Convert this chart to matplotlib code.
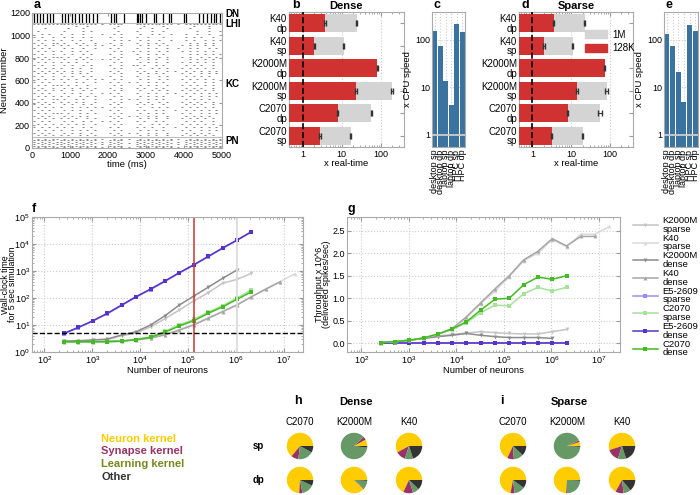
import numpy as np
import matplotlib
matplotlib.use('Agg')
import matplotlib.pyplot as plt
from matplotlib.patches import Patch
from matplotlib.ticker import FormatStrFormatter

plt.rcParams['font.family'] = ['Liberation Sans', 'DejaVu Sans']
plt.rcParams['mathtext.fontset'] = 'custom'
plt.rcParams['mathtext.rm'] = 'Liberation Sans'
plt.rcParams['font.size'] = 7
plt.rcParams['axes.edgecolor'] = '#aaaaaa'
plt.rcParams['axes.linewidth'] = 0.8
plt.rcParams['xtick.color'] = '#999999'
plt.rcParams['ytick.color'] = '#999999'
plt.rcParams['xtick.labelcolor'] = 'black'
plt.rcParams['ytick.labelcolor'] = 'black'
plt.rcParams['xtick.labelsize'] = 6.5
plt.rcParams['ytick.labelsize'] = 6.5
plt.rcParams['xtick.major.pad'] = 2
plt.rcParams['ytick.major.pad'] = 1.5
plt.rcParams['axes.labelsize'] = 6.8

# ---------------- data ----------------
# raster (a): each '-' is a short burst in a 100 ms bin, '|' only separates stimulus windows
kc_rows = [
    "      | |    -  -  |   |  - |   |  -    -  |   |  -   -   ",
    "   -  | |  -   -   |   | -  |   | -  -   - |   | -    -   ",
    " -    | | -    - - |   |  - |   |-   -  -  |   |   -  -  -",
    "  - - | |-  -  -   | - | - -|   | -  - -  -|   |-  -  -   ",
    "- -  -| | - -  - - |   |-  -|   |-  -   - |   | - - -  - ",
    " - - -| |-  - -  - |   | - -| - | - -  -  -|   |- -  - - -",
    "- -  -|-| -  - -  -|   |-  -|   |-  - - -  |   | - - - -  ",
    " - - -| |- -  - - -| - | - -|   | - -  - -|   |- - - - - ",
    "- - - | | - -  -  -|   |- - |   |-  - -  - | - | - -  - - ",
    " - - -| |-  - - -  |   | - -|  -| - -  - -|   |- - - - - ",
    "- -  -| | - -  - - |   |-  -|   |-  - - -  |   | - - - - -",
    " - - -|-|- -  - -  |   | - -|   | - -  - -|   |- -  - - -",
    "- - - | | -  - - - | - |- - |   |-  - -  - |   | - - - -  ",
    " - - -| |- - -  -  |   | - -|   | - - -  -|   |- - - - - ",
    "- -  -| | - -  - - |   |-  -|  -|- -  - - |   | - - -  - ",
    " - - -| |-  - -  - |   | - -|   | -  - - -|   |- - - - - ",
    "- - - |-| - - -  - |   |- - |   |- -  -  -| - | - - - - -",
    " - - -| |-  - - -  |   | - -|   | - - - - |   |- -  - - -",
    "- -  -| | - -  - - |   |-  -|   |-  -  - -|   | - - - -  ",
    " - - -| |- - -  - -| - | - -|   | - -  - -|   |- - - - - ",
    "- - - | | -  - -  -|   |- - | - |-  - - - |   | - -  - - ",
    " - - -|-|- - -  -  |   | - -|   | - - -  -|   |- - - - - ",
    "- -  -| | - - - - -|   |-  -|   |- -  - - |   | - - -  - ",
    " - - -| |-  -  - - |   | - -|   | -  - - -|   |- - - - - ",
    "- - - | | - - -  - | - |- - |   |-  - -  -| - | - - - - -",
    " - - -| |- -  - - -|   | - -|   | - - - - |   |- -  - - -",
    "- -  -|-| -  - -  -|   |-  -| - |-  - - - |   | - - - -  ",
    " - - -| |- - - -  -|   | - -|   | - -  - -|   |- - - - - ",
    "- - - | | - -  - - |   |- - |   |- - -  - |   | - - -  - ",
    " - - -| |-  - - - -| - | - -|   | -  - - -|   |- - - - - ",
    "- - - | | - - -  - |   |- - |   |- -  - - | - | - - - - -",
    " - - -|-|- -  - - -|   | - -|   | - - - - |   |- -  - - -",
    "- - - | | - - - -  |   |- - | - |-  - -  -|   | - - - -  ",
    " - - -| |- - -  - -|   | - -|   | - - -  -|   |- - - - - ",
    "- - - | | - -  - - | - |- - |   |- -  - - |   | - - -  - ",
    " - - -| |- - - -  -|   | - -|   | -  - - -|   |- - - - - ",
    "- - - |-| - -  - - |   |- - |   |- - -  - | - | - - - - -",
    " - - -| |-  - - - -|   | - -|   | - - - - |   |- -  - - -",
    "- - - | | - - -  - |   |- - | - |-  - -  -|   | - - - -  ",
    " - - -| |- -  - - -|   | - -|   | - - -  -|   |- - - - - ",
]
pn_rows = [
    "- - - | |- - - - - |   |- - |   |- - - - - |   |- - - - - ",
    " - - -|-| - - - - -| - | - -| - | - - - - -| - | - - - - -",
    "------| |----------|   |----|   |----------|   |----------",
    "- - - |-|- - - - - | - |- - |   |- - - - - | - |- - - - - ",
    " - - -| | - - - - -|   | - -| - | - - - - -|   | - - - - -",
    "- - - |-|- - - - - | - |- - |   |- - - - - | - |- - - - - ",
    "------| |----------|   |----|   |----------|   |----------",
    " - - -|-| - - - - -| - | - -| - | - - - - -| - | - - - - -",
]
lhi_row = ["------|-|----------| - |----|   |----------| - |----------"]
dn_times = [50, 130, 220, 300, 390, 470, 560, 780, 870, 960, 1050, 1140, 1230,
            1320, 1410, 1500, 1600, 1700, 2080, 2150, 2200, 2420, 2750, 2800,
            2850, 2900, 3000, 3200, 3250, 3450, 3600, 3650, 4000, 4050, 4400,
            4500, 4600, 4700, 4780, 4850, 4950]

# b-e
gpu_cats = ['K40\ndp', 'K40\nsp', 'K2000M\ndp', 'K2000M\nsp', 'C2070\ndp', 'C2070\nsp']
dense_1m = [24.3, 11.5, np.nan, 195, 57.6, 17.0]
dense_1m_err = [0.8, 0.4, np.nan, 12, 2.0, 0.6]
dense_128k = [3.74, 2.0, 83.6, 23.3, 7.9, 2.8]
dense_128k_err = [0.15, 0.08, 3.0, 1.0, 0.3, 0.1]
sparse_1m = [22.4, 11.0, np.nan, 83.6, 55.6, 20.0]
sparse_1m_err = [0.6, 0.4, np.nan, 8.0, 7.0, 0.6]
sparse_128k = [3.6, 2.0, 74.6, 14.3, 8.2, 3.2]
sparse_128k_err = [0.12, 0.08, 3.0, 0.6, 0.3, 0.1]

cpu_cats = ['desktop sp', 'desktop dp', 'laptop sp', 'laptop dp', 'HPC sp', 'HPC dp']
dense_speedup = [155, 76, 13.5, 4.3, 215, 150]
sparse_speedup = [132, 76, 20.6, 4.8, 208, 157]

# f, g
n_neurons = [256, 512, 1024, 2048, 4096, 8192, 16384, 32768, 65536, 131072,
             262144, 524288, 1048576, 2097152, 4194304, 8388608, 16777216]
wall_time = {
    'K2000M sparse': [2.5, 2.6, 2.7, 2.9, 4.0, 5.0, 8.5, 17, 36, 78, 158, 350, 490, 820],
    'K40 sparse': [2.4, 2.4, 2.4, 2.5, 2.6, 2.8, 3.3, 4.4, 6.8, 10.5, 18.5, 32, 57, 112, 215, 405, 780],
    'K2000M dense': [2.5, 2.6, 2.8, 3.0, 4.3, 5.6, 10, 22, 55, 118, 250, 535, 1090],
    'K40 dense': [2.4, 2.4, 2.4, 2.5, 2.6, 2.8, 3.3, 4.3, 6.5, 10, 17.7, 31, 55, 111, 214, 400],
    'E5-2609 sparse': [4.8, 8.0, 14, 26, 53, 108, 205, 410, 840, 1650, 3350, 6900, 13600, 27800],
    'C2070 sparse': [2.4, 2.4, 2.4, 2.4, 2.5, 2.9, 3.6, 5.8, 10.2, 16, 30, 52, 100, 200],
    'E5-2609 dense': [4.9, 8.2, 14.4, 27, 55, 112, 214, 426, 870, 1700, 3470, 7100, 14000, 28600],
    'C2070 dense': [2.4, 2.4, 2.4, 2.4, 2.5, 2.9, 3.5, 5.4, 9.2, 14.4, 27, 47, 89, 170],
}
throughput = {
    'K2000M sparse': [0.02, 0.04, 0.07, 0.11, 0.16, 0.20, 0.23, 0.26, 0.24, 0.22, 0.21, 0.21, 0.26, 0.31],
    'K40 sparse': [0.02, 0.04, 0.07, 0.12, 0.20, 0.33, 0.57, 0.88, 1.16, 1.48, 1.83, 2.00, 2.30, 2.14, 2.42, 2.42, 2.59],
    'K2000M dense': [0.02, 0.04, 0.07, 0.11, 0.15, 0.18, 0.22, 0.18, 0.15, 0.13, 0.13, 0.13, 0.11],
    'K40 dense': [0.02, 0.04, 0.07, 0.12, 0.20, 0.33, 0.59, 0.90, 1.21, 1.50, 1.85, 2.04, 2.32, 2.16, 2.37, 2.37],
    'E5-2609 sparse': [0.01] * 14,
    'C2070 sparse': [0.02, 0.04, 0.07, 0.12, 0.20, 0.31, 0.46, 0.68, 0.85, 0.83, 1.10, 1.24, 1.16, 1.24],
    'E5-2609 dense': [0.005] * 14,
    'C2070 dense': [0.02, 0.04, 0.07, 0.12, 0.21, 0.32, 0.48, 0.74, 0.98, 1.00, 1.30, 1.47, 1.42, 1.50],
}
styles = {
    'K2000M sparse': ('#c4c4c4', 'v'),
    'K40 sparse': ('#dadada', '^'),
    'K2000M dense': ('#8c8c8c', 'v'),
    'K40 dense': ('#a6a6a6', '^'),
    'E5-2609 sparse': ('#9c8cf2', 's'),
    'C2070 sparse': ('#a6e29a', 's'),
    'E5-2609 dense': ('#5533cc', 's'),
    'C2070 dense': ('#44bb22', 's'),
}

# h, i
pie_gpus = ['C2070', 'K2000M', 'K40']
kernels = ['Neuron kernel', 'Synapse kernel', 'Learning kernel', 'Other']
kernel_colors = ['#ffcc00', '#993366', '#669966', '#333333']
kernel_text_colors = ['#ffcc00', '#993366', '#77881f', '#333333']
dense_sp_frac = [[0.64, 0.09, 0.19, 0.08], [0.08, 0.04, 0.86, 0.02], [0.58, 0.12, 0.10, 0.20]]
dense_dp_frac = [[0.74, 0.04, 0.15, 0.07], [0.88, 0.01, 0.10, 0.01], [0.68, 0.12, 0.08, 0.12]]
sparse_sp_frac = [[0.68, 0.08, 0.12, 0.12], [0.05, 0.02, 0.92, 0.01], [0.55, 0.15, 0.10, 0.20]]
sparse_dp_frac = [[0.72, 0.05, 0.13, 0.10], [0.74, 0.01, 0.24, 0.01], [0.67, 0.10, 0.09, 0.14]]

# ---------------- figure ----------------
W, H = 700, 495
fig = plt.figure(figsize=(7, 4.95), dpi=100)


def px_axes(x0, y0, x1, y1):
    return fig.add_axes([x0 / W, 1 - y1 / H, (x1 - x0) / W, (y1 - y0) / H])


def letter(x, y, s):
    fig.text(x / W, 1 - y / H, s, fontsize=9, fontweight='bold', va='center')


def grid_spikes(rows, top, step):
    t, n = [], []
    for i, row in enumerate(rows):
        cells = row.replace('|', '')
        for j, c in enumerate(cells):
            if c == '-':
                t.append(j * 100 + 50)
                n.append(top - step * (i + 0.5))
    return t, n


# ---- a ----
ax = px_axes(32, 13, 222, 148)
for rows, top, step in [(kc_rows, 1100, 25), (pn_rows, 100, 12.5), (lhi_row, 1104, 4)]:
    t, n = grid_spikes(rows, top, step)
    ax.plot(t, n, ls='none', marker='_', ms=1.6, mew=0.45, color='#444444')
ax.vlines(dn_times, 1114, 1200, color='k', lw=0.9)
ax.axhline(100, color='#bbbbbb', lw=0.8)
ax.axhline(1110, color='#bbbbbb', lw=0.8)
ax.set_xlim(0, 5000)
ax.set_ylim(0, 1200)
ax.set_xticks([0, 1000, 2000, 3000, 4000, 5000])
ax.set_yticks([0, 200, 400, 600, 800, 1000, 1200])
ax.tick_params(direction='in', right=True, top=True, length=2)
ax.set_xlabel('time (ms)', labelpad=0)
ax.set_ylabel('Neuron number', labelpad=1)
tr = ax.get_yaxis_transform()
for lab, yv in [('DN', 1188), ('LHI', 1104), ('KC', 573), ('PN', 60)]:
    ax.text(1.02, yv, lab, transform=tr, fontweight='bold', va='center', ha='left')
letter(34, 5, 'a')


# ---- b, d ----
def bars(ax, v1m, e1m, v128, e128, title):
    ypos = np.arange(len(gpu_cats))[::-1]
    for y, v, e in zip(ypos, v1m, e1m):
        if np.isfinite(v):
            ax.barh(y, v - 0.01, left=0.01, height=0.8, color='#d4d4d4', zorder=2)
            ax.errorbar(v, y, xerr=e, color='#333333', capsize=2.2, lw=0.8, zorder=4)
    ax.barh(ypos, np.array(v128) - 0.01, left=0.01, height=0.8, color='#d03232', zorder=3)
    ax.errorbar(v128, ypos, xerr=e128, fmt='none', ecolor='#333333', capsize=2.2, lw=0.8, zorder=4)
    ax.axvline(1, color='k', ls='--', lw=1.2, zorder=5)
    ax.set_xscale('log')
    ax.set_xlim(0.45, 400)
    ax.set_ylim(-0.5, 5.5)
    ax.set_xticks([1, 10, 100])
    ax.set_xticklabels(['1', '10', '100'])
    ax.set_yticks(ypos)
    ax.set_yticklabels(gpu_cats, linespacing=0.95, fontsize=7)
    ax.tick_params(axis='y', left=False, right=True, direction='in', length=3)
    ax.tick_params(axis='x', which='both', direction='in', top=True)
    ax.tick_params(axis='x', which='major', length=3)
    ax.tick_params(axis='x', which='minor', length=1.5)
    ax.grid(axis='x', which='major', ls=':', color='#cccccc', lw=0.8, zorder=0)
    ax.set_xlabel('x real-time', labelpad=0)
    ax.set_title(title, fontweight='bold', fontsize=8, pad=2)


ax_b = px_axes(289, 12, 404, 147)
bars(ax_b, dense_1m, dense_1m_err, dense_128k, dense_128k_err, 'Dense')
letter(292, 5, 'b')
ax_d = px_axes(519, 12, 633, 147)
bars(ax_d, sparse_1m, sparse_1m_err, sparse_128k, sparse_128k_err, 'Sparse')
ax_d.legend(handles=[Patch(color='#d4d4d4', label='1M'), Patch(color='#d03232', label='128K')],
            loc='upper left', bbox_to_anchor=(0.58, 0.87), frameon=False,
            handlelength=2.3, handleheight=0.9, fontsize=7, labelspacing=0.35,
            borderpad=0, borderaxespad=0, handletextpad=0.5)
letter(522, 5, 'd')


# ---- c, e ----
def speed(ax, vals):
    x = np.arange(len(cpu_cats))
    ax.bar(x, np.array(vals) - 0.01, bottom=0.01, width=0.85, color='#3b73a0', zorder=2)
    ax.axhline(1, color='#cccccc', lw=1.3, zorder=3)
    ax.set_yscale('log')
    ax.set_ylim(0.55, 390)
    ax.set_xlim(-0.5, 5.5)
    ax.set_yticks([1, 10, 100])
    ax.set_yticklabels(['1', '10', '100'])
    ax.set_xticks(x)
    ax.set_xticklabels(cpu_cats, rotation=90, fontsize=6.5)
    ax.tick_params(which='both', direction='in', length=0)
    ax.grid(which='major', ls=':', color='#cccccc', lw=0.8, zorder=0)
    ax.set_ylabel('x CPU speed', labelpad=2)


ax_c = px_axes(432, 12, 465, 147)
speed(ax_c, dense_speedup)
letter(434, 5, 'c')
ax_e = px_axes(664, 12, 698, 147)
speed(ax_e, sparse_speedup)
letter(666, 5, 'e')

# ---- f ----
ax_f = px_axes(32, 217, 303, 352)
order_f = ['E5-2609 sparse', 'E5-2609 dense', 'K2000M sparse', 'K2000M dense',
           'K40 sparse', 'K40 dense', 'C2070 sparse', 'C2070 dense']
for name in order_f:
    col, mk = styles[name]
    vals = wall_time[name]
    ax_f.plot(n_neurons[:len(vals)], vals, color=col, marker=mk, ms=2.8, lw=1.1, mew=0)
ax_f.axvline(131072, color='#cc3333', lw=1.1)
ax_f.axvline(1048576, color='#dddddd', lw=1.3)
ax_f.axhline(5, color='k', ls='--', lw=1.0)
ax_f.set_xscale('log')
ax_f.set_yscale('log')
ax_f.set_xlim(55, 2.5e7)
ax_f.set_ylim(1, 1e5)
ax_f.tick_params(which='both', direction='in', top=True, right=True)
ax_f.tick_params(which='major', length=3)
ax_f.tick_params(which='minor', length=1.5)
ax_f.grid(which='major', ls=':', color='#cccccc', lw=0.8)
ax_f.set_xlabel('Number of neurons', labelpad=0)
ax_f.set_ylabel('Wall-clock time\nfor 5 sec simulation', linespacing=0.7, fontsize=6.3)
ax_f.yaxis.set_label_coords(-15 / 271, 0.5)
letter(32, 209, 'f')

# ---- g ----
ax_g = px_axes(347, 217, 620, 352)
order_g = ['E5-2609 sparse', 'E5-2609 dense', 'K2000M sparse', 'K2000M dense',
           'K40 sparse', 'K40 dense', 'C2070 sparse', 'C2070 dense']
lines = {}
for name in order_g:
    col, mk = styles[name]
    vals = throughput[name]
    lines[name], = ax_g.plot(n_neurons[:len(vals)], vals, color=col, marker=mk, ms=2.8, lw=1.1, mew=0)
ax_g.set_xscale('log')
ax_g.set_xlim(50, 2.8e7)
ax_g.set_ylim(-0.19, 2.8)
ax_g.set_yticks([0, 0.5, 1.0, 1.5, 2.0, 2.5])
ax_g.yaxis.set_major_formatter(FormatStrFormatter('%.1f'))
ax_g.tick_params(which='both', direction='in', top=True, right=True)
ax_g.tick_params(which='major', length=3)
ax_g.tick_params(which='minor', length=1.5)
ax_g.grid(which='major', ls=':', color='#cccccc', lw=0.8)
ax_g.set_xlabel('Number of neurons', labelpad=0)
ax_g.set_ylabel('Throughput x 10^6\n(delivered spikes/sec)', labelpad=1, linespacing=0.7, fontsize=6.5)
letter(348, 209, 'g')
leg_names = ['K2000M sparse', 'K40 sparse', 'K2000M dense', 'K40 dense',
             'E5-2609 sparse', 'C2070 sparse', 'E5-2609 dense', 'C2070 dense']
leg = fig.legend([lines[k] for k in leg_names], [k.replace(' ', '\n') for k in leg_names],
                 loc='upper left', bbox_to_anchor=(633 / W, 1 - 216 / H), frameon=False,
                 fontsize=6.8, handlelength=2.6, handletextpad=0.5, labelspacing=0.0,
                 borderpad=0, borderaxespad=0)
for txt in leg.get_texts():
    txt.set_linespacing(0.95)

# ---- h, i ----
pie_d = 27
row_y = {'sp': 446, 'dp': 480}


def pies(xs, sp_fr, dp_fr):
    for x, gpu, fs, fd in zip(xs, pie_gpus, sp_fr, dp_fr):
        fig.text(x / W, 1 - 422 / H, gpu, ha='center', va='center', fontsize=7)
        for key, fr in [('sp', fs), ('dp', fd)]:
            y = row_y[key]
            pa = px_axes(x - pie_d / 2, y - pie_d / 2, x + pie_d / 2, y + pie_d / 2)
            pa.pie(fr, colors=kernel_colors, startangle=0, wedgeprops=dict(linewidth=0))
            pa.set_xlim(-1.02, 1.02)
            pa.set_ylim(-1.02, 1.02)


pies([300, 354, 409], dense_sp_frac, dense_dp_frac)
pies([513, 567, 622], sparse_sp_frac, sparse_dp_frac)
letter(294, 401, 'h')
fig.text(356 / W, 1 - 402 / H, 'Dense', ha='center', va='center', fontsize=8, fontweight='bold')
letter(500, 401, 'i')
fig.text(569 / W, 1 - 402 / H, 'Sparse', ha='center', va='center', fontsize=8, fontweight='bold')
for key in ['sp', 'dp']:
    fig.text(253 / W, 1 - row_y[key] / H, key, ha='left', va='center', fontsize=7, fontweight='bold')
for i, (k, c) in enumerate(zip(kernels, kernel_text_colors)):
    fig.text(101 / W, 1 - (439 + 12.5 * i) / H, k, color=c, fontsize=8, fontweight='bold', va='center')

fig.savefig('out.png', dpi=100)
